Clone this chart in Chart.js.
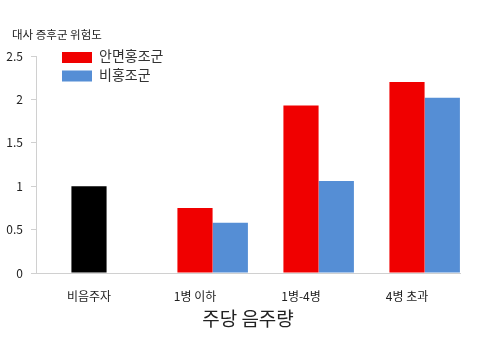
<!DOCTYPE html>
<html>
<head>
<meta charset="utf-8">
<script src="https://cdn.jsdelivr.net/npm/chart.js@4.4.1/dist/chart.umd.min.js"></script>
<style>
html,body{margin:0;padding:0;background:#fff;}
#wrap{width:480px;height:360px;position:relative;}
</style>
</head>
<body>
<div id="wrap"><canvas id="c" width="480" height="360"></canvas></div>
<script>
const categories = ['비음주자', '1병 이하', '1병-4병', '4병 초과'];
const flushingValues = [1.0, 0.75, 1.93, 2.2];
const nonFlushingValues = [null, 0.58, 1.06, 2.02];
const emptySlot = [null, null, null, null];
const flushingColors = ['#000000', '#f00000', '#f00000', '#f00000'];
const nonFlushingColor = '#558ed5';
const seriesLabels = ['안면홍조군', '비홍조군'];
const legendColors = ['#f00000', '#558ed5'];
const yTicks = [0, 0.5, 1, 1.5, 2, 2.5];
const chartTitle = '대사 증후군 위험도';
const xTitle = '주당 음주량';

const FONT = '"Noto Sans CJK KR", "Malgun Gothic", sans-serif';

const overlayText = {
  id: 'overlayText',
  afterDraw(chart) {
    const ctx = chart.ctx;
    ctx.save();
    ctx.textBaseline = 'middle';
    ctx.textAlign = 'left';
    ctx.font = '11.5px ' + FONT;
    ctx.fillStyle = '#222222';
    ctx.fillText(chartTitle, 12, 35);
    ctx.font = '14px ' + FONT;
    seriesLabels.forEach((lab, i) => {
      const y = 52 + i * 18.5;
      ctx.fillStyle = legendColors[i];
      ctx.fillRect(62, y, 30, 11);
      ctx.fillStyle = '#333333';
      ctx.fillText(lab, 99, y + 4);
    });
    ctx.restore();
  }
};

new Chart(document.getElementById('c'), {
  type: 'bar',
  data: {
    labels: categories,
    datasets: [
      { label: '', data: emptySlot, backgroundColor: '#ffffff' },
      { label: seriesLabels[0], data: flushingValues, backgroundColor: flushingColors, borderWidth: 0 },
      { label: seriesLabels[1], data: nonFlushingValues, backgroundColor: nonFlushingColor, borderWidth: 0 }
    ]
  },
  options: {
    responsive: false,
    animation: false,
    devicePixelRatio: 1,
    layout: { padding: { left: 0, right: 20, top: 56, bottom: 0 } },
    datasets: { bar: { categoryPercentage: 1.0, barPercentage: 0.995 } },
    plugins: {
      legend: { display: false },
      tooltip: { enabled: false },
      title: { display: false }
    },
    scales: {
      x: {
        grid: { drawOnChartArea: false, drawTicks: false },
        border: { display: true, color: '#d0d0d0', width: 1 },
        ticks: { color: '#222222', font: { family: FONT, size: 12 }, padding: 16, maxRotation: 0 },
        title: { display: true, text: xTitle, color: '#222222', font: { family: FONT, size: 19 }, padding: { top: 4, bottom: 30 } },
        afterFit(scale) { scale.height = 87; }
      },
      y: {
        min: 0,
        max: 2.5,
        afterBuildTicks(scale) { scale.ticks = yTicks.map(v => ({ value: v })); },
        grid: { drawOnChartArea: false, drawTicks: true, tickLength: 5, color: '#d0d0d0' },
        border: { display: true, color: '#d0d0d0', width: 1 },
        ticks: {
          color: '#222222',
          font: { family: FONT, size: 12 },
          padding: 8,
          callback: (v) => String(v)
        },
        afterFit(scale) { scale.width = 36; }
      }
    }
  },
  plugins: [overlayText]
});
</script>
</body>
</html>
